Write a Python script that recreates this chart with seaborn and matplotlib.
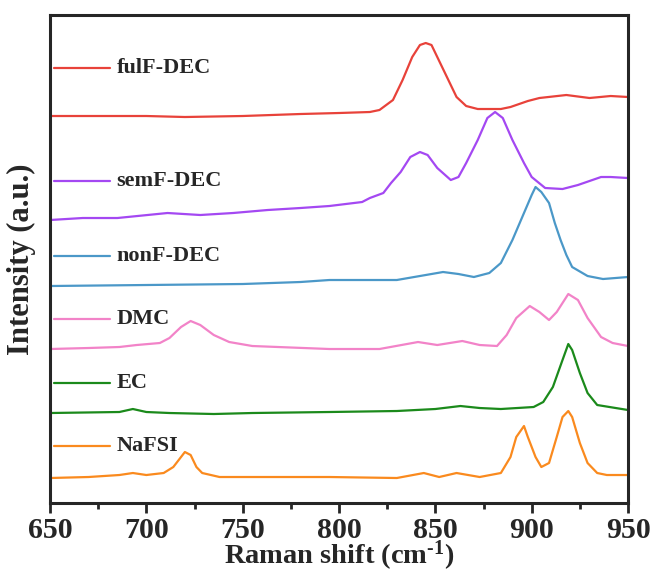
import numpy as np
import pandas as pd
import matplotlib
matplotlib.use('Agg')
import matplotlib.pyplot as plt
import seaborn as sns

# Raman spectra (stacked, offset already included)
fulF_x = [650, 680, 700, 720, 750, 780, 800, 816, 821, 828, 833, 838, 842, 845, 848, 851, 856, 861, 866, 872, 878, 884, 889, 898, 904, 918, 930, 941, 950]
fulF_y = [387, 387, 387, 386, 387, 389, 390, 391, 393, 403, 423, 446, 458, 460, 458, 446, 426, 406, 397, 394, 394, 394, 396, 402, 405, 408, 405, 407, 406]

semF_x = [650, 667, 685, 711, 728, 745, 763, 780, 795, 812, 816, 823, 827, 832, 837, 842, 846, 851, 858, 862, 866, 872, 877, 881, 885, 890, 896, 900, 907, 916, 924, 936, 941, 950]
semF_y = [283, 285, 285, 290, 288, 290, 293, 295, 297, 301, 305, 310, 320, 331, 346, 351, 348, 335, 323, 326, 340, 363, 385, 391, 385, 363, 340, 326, 315, 314, 318, 326, 326, 325]

nonF_x = [650, 700, 750, 780, 795, 830, 842, 854, 862, 870, 878, 884, 890, 896, 900, 902, 905, 909, 912, 915, 918, 921, 929, 937, 950]
nonF_y = [217, 218, 219, 221, 223, 223, 227, 231, 229, 226, 230, 240, 263, 290, 308, 316, 311, 300, 280, 263, 248, 236, 227, 224, 226]

dmc_x = [650, 670, 686, 695, 707, 712, 718, 723, 728, 735, 743, 755, 795, 821, 841, 851, 864, 873, 882, 887, 892, 899, 904, 909, 913, 919, 924, 929, 936, 942, 950]
dmc_y = [154, 155, 156, 158, 160, 165, 176, 182, 178, 168, 161, 157, 154, 154, 161, 158, 162, 158, 157, 168, 185, 197, 191, 183, 191, 209, 203, 185, 166, 160, 157]

ec_x = [650, 686, 693, 700, 712, 735, 755, 795, 830, 850, 863, 873, 884, 901, 906, 911, 916, 919, 921, 925, 929, 934, 950]
ec_y = [90, 91, 94, 91, 90, 89, 90, 91, 92, 94, 97, 95, 94, 96, 101, 116, 143, 159, 153, 130, 110, 98, 93]

nafsi_x = [650, 670, 686, 693, 700, 709, 714, 718, 720, 723, 726, 729, 738, 760, 795, 830, 844, 852, 861, 873, 884, 889, 892, 896, 898, 902, 905, 909, 913, 916, 919, 921, 925, 929, 934, 939, 950]
nafsi_y = [25, 26, 28, 30, 28, 30, 36, 46, 51, 48, 36, 30, 26, 26, 26, 25, 30, 26, 30, 26, 30, 46, 66, 77, 66, 46, 36, 40, 66, 86, 92, 86, 60, 40, 30, 28, 28]

names = ['fulF-DEC', 'semF-DEC', 'nonF-DEC', 'DMC', 'EC', 'NaFSI']
colors = ['#e8423a', '#a448f2', '#4b98c8', '#f283c8', '#1b8a1b', '#fa8a1e']
label_y = [435, 322, 247, 184, 120, 57]

curves = [(fulF_x, fulF_y), (semF_x, semF_y), (nonF_x, nonF_y),
          (dmc_x, dmc_y), (ec_x, ec_y), (nafsi_x, nafsi_y)]

sns.set_style('ticks')
plt.rcParams['font.family'] = ['Liberation Serif', 'DejaVu Serif']
plt.rcParams['font.weight'] = 'bold'
plt.rcParams['mathtext.fontset'] = 'custom'
plt.rcParams['mathtext.rm'] = 'Liberation Serif:bold'
plt.rcParams['mathtext.bf'] = 'Liberation Serif:bold'
plt.rcParams['mathtext.default'] = 'bf'

fig = plt.figure(figsize=(6.57, 5.75), dpi=100)
ax = fig.add_axes([0.0761, 0.1252, 0.8798, 0.8487])

for (xs, ys), name, c, ly in zip(curves, names, colors, label_y):
    df = pd.DataFrame({'x': xs, 'y': ys})
    sns.lineplot(data=df, x='x', y='y', ax=ax, color=c, lw=1.6, sort=False)
    # Origin-style label: short line + text
    ax.plot([652, 681], [ly, ly], color=c, lw=1.6)
    ax.text(684.5, ly, name, fontsize=16, fontweight='bold', va='center', ha='left')

ax.set_xlim(650, 950)
ax.set_ylim(0, 488)
ax.set_xticks([650, 700, 750, 800, 850, 900, 950])
ax.set_xticks([675, 725, 775, 825, 875, 925], minor=True)
ax.set_yticks([])
ax.tick_params(axis='x', which='major', direction='out', length=7, width=2,
               labelsize=21.5, pad=3)
ax.tick_params(axis='x', which='minor', direction='out', length=4, width=2)
for lab in ax.get_xticklabels():
    lab.set_fontweight('bold')
for s in ax.spines.values():
    s.set_linewidth(2.2)
    s.set_visible(True)

ax.set_xlabel('Raman shift (cm$^{\\text{-}1}$)', fontsize=20.5, fontweight='bold', labelpad=-4)
ax.set_ylabel('Intensity (a.u.)', fontsize=22, fontweight='bold', labelpad=10)

fig.savefig('out.png', dpi=100)
